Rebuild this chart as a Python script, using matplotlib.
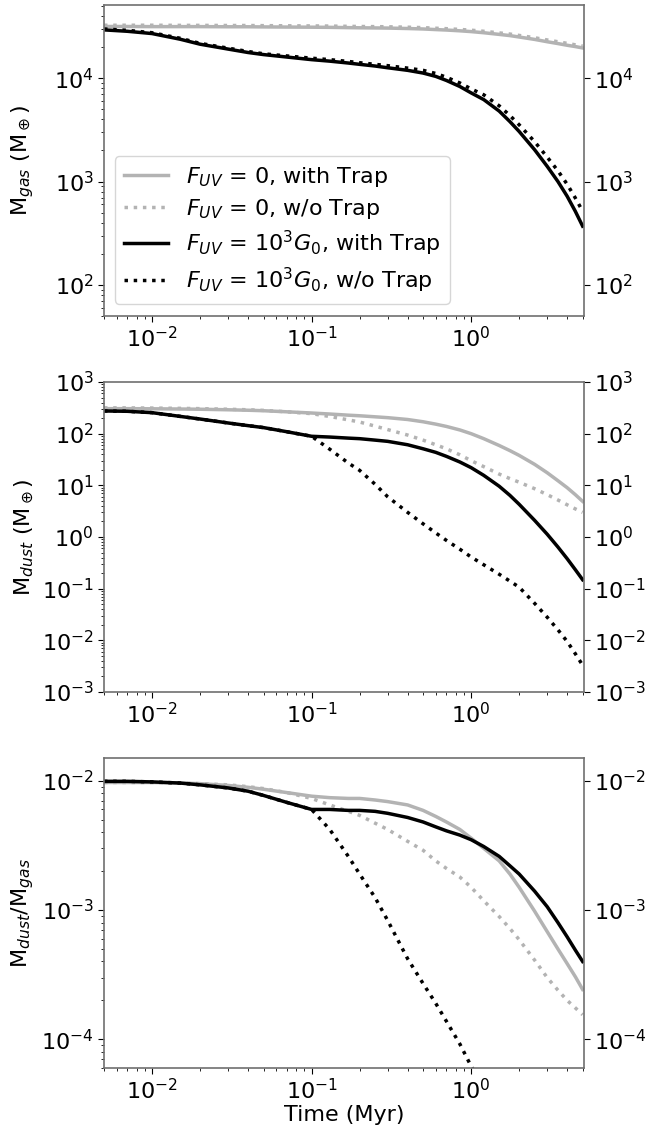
import matplotlib
matplotlib.use("Agg")
import matplotlib.pyplot as plt

time_myr = [0.005, 0.007, 0.01, 0.015, 0.02, 0.03, 0.04, 0.05, 0.07, 0.1, 0.13, 0.17, 0.2, 0.25, 0.3,
            0.4, 0.5, 0.6, 0.7, 0.85, 1.0, 1.2, 1.5, 1.75, 2.0, 2.5, 3.0, 3.5, 4.0, 4.5, 5.0]

# Gas mass (M_earth)
gas_f0_trap   = [3.16e4, 3.16e4, 3.15e4, 3.15e4, 3.15e4, 3.14e4, 3.14e4, 3.13e4, 3.12e4, 3.11e4, 3.10e4, 3.08e4,
                 3.07e4, 3.06e4, 3.05e4, 3.02e4, 2.99e4, 2.95e4, 2.92e4, 2.87e4, 2.82e4, 2.75e4, 2.65e4, 2.58e4,
                 2.50e4, 2.37e4, 2.25e4, 2.16e4, 2.08e4, 2.02e4, 1.96e4]
gas_f0_notrap = [3.25e4, 3.25e4, 3.25e4, 3.24e4, 3.24e4, 3.23e4, 3.23e4, 3.22e4, 3.21e4, 3.20e4, 3.19e4, 3.17e4,
                 3.16e4, 3.15e4, 3.14e4, 3.11e4, 3.08e4, 3.04e4, 3.01e4, 2.96e4, 2.91e4, 2.84e4, 2.74e4, 2.67e4,
                 2.59e4, 2.46e4, 2.34e4, 2.25e4, 2.17e4, 2.10e4, 2.04e4]
gas_f3_trap   = [2.93e4, 2.84e4, 2.70e4, 2.38e4, 2.13e4, 1.91e4, 1.77e4, 1.69e4, 1.60e4, 1.51e4, 1.46e4, 1.40e4,
                 1.36e4, 1.31e4, 1.26e4, 1.19e4, 1.12e4, 1.04e4, 9.5e3, 8.3e3, 7.2e3, 6.2e3, 4.8e3, 3.8e3,
                 3.05e3, 2.03e3, 1.40e3, 1.0e3, 720, 515, 370]
gas_f3_notrap = [2.99e4, 2.90e4, 2.75e4, 2.43e4, 2.17e4, 1.95e4, 1.81e4, 1.72e4, 1.64e4, 1.56e4, 1.51e4, 1.45e4,
                 1.41e4, 1.36e4, 1.32e4, 1.25e4, 1.19e4, 1.11e4, 1.02e4, 8.98e3, 7.87e3, 6.90e3, 5.40e3, 4.35e3,
                 3.54e3, 2.43e3, 1.72e3, 1.27e3, 940, 693, 516]

# Dust mass (M_earth)
dust_f0_trap   = [305, 305, 303, 300, 297, 290, 284, 278, 265, 251, 240, 228, 222, 212, 204, 188, 170, 153, 138,
                  118, 100, 80, 59, 47, 38, 25.5, 17.5, 12.3, 9.0, 6.6, 4.9]
dust_f0_notrap = [316, 315, 313, 309, 305, 297, 290, 282, 265, 244, 215, 185, 168, 140, 120, 94, 75, 61, 51,
                  39, 30, 23, 16.5, 13.5, 11.5, 8.6, 6.6, 5.2, 4.2, 3.5, 3.0]
dust_f3_trap   = [275, 271, 255, 216, 192, 161, 143, 131, 109, 89, 86, 82, 80, 75, 71, 61, 51, 43.5, 36.4,
                  28.3, 22.0, 15.6, 9.6, 6.4, 4.3, 2.1, 1.13, 0.64, 0.38, 0.233, 0.149]
dust_f3_notrap = [275, 271, 255, 216, 192, 161, 143, 131, 109, 89, 50, 27, 19.5, 10.5, 6.0, 3.0, 1.8, 1.2, 0.86,
                  0.58, 0.41, 0.29, 0.19, 0.14, 0.107, 0.052, 0.028, 0.016, 0.0095, 0.0055, 0.0033]

# Dust-to-gas ratio
ratio_f0_trap   = [0.0097, 0.0097, 0.0097, 0.0096, 0.0095, 0.0092, 0.0089, 0.0086, 0.0081, 0.0076, 0.0074, 0.0073,
                   0.0073, 0.0071, 0.0069, 0.0065, 0.0059, 0.0053, 0.0048, 0.0042, 0.0036, 0.0030, 0.0024, 0.0019,
                   0.0015, 9.8e-4, 6.8e-4, 5.0e-4, 3.85e-4, 3.05e-4, 2.43e-4]
ratio_f0_notrap = [0.0097, 0.0097, 0.0097, 0.0096, 0.0095, 0.0093, 0.0090, 0.0087, 0.0081, 0.0073, 0.0065, 0.0058,
                   0.0054, 0.0047, 0.0042, 0.0034, 0.0029, 0.0024, 0.0021, 0.0018, 0.0015, 0.00118, 8.9e-4, 7.2e-4,
                   5.9e-4, 4.1e-4, 3.0e-4, 2.4e-4, 2.0e-4, 1.75e-4, 1.55e-4]
ratio_f3_trap   = [0.0099, 0.0099, 0.0098, 0.0096, 0.0093, 0.0088, 0.0083, 0.0077, 0.0068, 0.0060, 0.0060, 0.0059,
                   0.0059, 0.0058, 0.0056, 0.0052, 0.0048, 0.0044, 0.0041, 0.0038, 0.0035, 0.0031, 0.0026, 0.0022,
                   0.0019, 0.0014, 0.00106, 8.0e-4, 6.2e-4, 4.9e-4, 4.0e-4]
ratio_f3_notrap = [0.0099, 0.0099, 0.0098, 0.0096, 0.0093, 0.0088, 0.0083, 0.0077, 0.0068, 0.0060, 0.0042, 0.0026,
                   0.0019, 0.00125, 8.3e-4, 4.2e-4, 2.7e-4, 1.9e-4, 1.38e-4, 9.2e-5, 6.2e-5, 4.3e-5, 3.0e-5, 2.5e-5,
                   2.2e-5, 1.6e-5, 1.2e-5, 9e-6, 6e-6, 4e-6, 2.8e-6]

labels = [r"$F_{UV}$ = 0, with Trap", r"$F_{UV}$ = 0, w/o Trap",
          r"$F_{UV}$ = $10^3G_0$, with Trap", r"$F_{UV}$ = $10^3G_0$, w/o Trap"]

plt.rcParams['font.family'] = ['DejaVu Sans']
plt.rcParams['mathtext.fontset'] = 'dejavusans'
fs = 16

fig = plt.figure(figsize=(6.67, 11.27), dpi=100)
left, width = 104/667, 480/667
ax1 = fig.add_axes([left, 1 - 316/1127, width, 311/1127])
ax2 = fig.add_axes([left, 1 - 692/1127, width, 310/1127])
ax3 = fig.add_axes([left, 1 - 1068/1127, width, 310/1127])

grey = '#b3b3b3'
lw = 2.5
series = [
    (gas_f0_trap, gas_f0_notrap, gas_f3_trap, gas_f3_notrap),
    (dust_f0_trap, dust_f0_notrap, dust_f3_trap, dust_f3_notrap),
    (ratio_f0_trap, ratio_f0_notrap, ratio_f3_trap, ratio_f3_notrap),
]
styles = [dict(color=grey, ls='-'), dict(color=grey, ls=':'),
          dict(color='black', ls='-'), dict(color='black', ls=':')]

for ax, ser in zip([ax1, ax2, ax3], series):
    for data, st, lab in zip(ser, styles, labels):
        ax.plot(time_myr, data, lw=lw, label=lab, **st)
    ax.set_xscale('log')
    ax.set_yscale('log')
    ax.set_xlim(0.005, 5.1)
    ax.tick_params(axis='both', which='major', labelsize=fs, right=True, labelright=True, length=4)
    ax.tick_params(axis='y', which='minor', right=False)
    ax.tick_params(axis='both', which='minor', length=2)
    for sp in ax.spines.values():
        sp.set_color('#707070')
        sp.set_linewidth(1.2)

ax1.set_ylim(50, 5.1e4)
ax2.set_ylim(1e-3, 1e3)
ax3.set_ylim(6e-5, 1.5e-2)

ax1.set_ylabel(r"M$_{gas}$ (M$_\oplus$)", fontsize=fs)
ax2.set_ylabel(r"M$_{dust}$ (M$_\oplus$)", fontsize=fs)
ax3.set_ylabel(r"M$_{dust}$/M$_{gas}$", fontsize=fs)
ax3.set_xlabel("Time (Myr)", fontsize=fs, labelpad=1)
for ax in (ax1, ax2, ax3):
    ax.yaxis.set_label_coords(-0.142, 0.5)

ax1.legend(loc='lower left', bbox_to_anchor=(0.023, 0.039), borderaxespad=0,
           fontsize=fs, handlelength=2.0, labelspacing=0.35, framealpha=0.8)

fig.savefig('out.png', dpi=100)
